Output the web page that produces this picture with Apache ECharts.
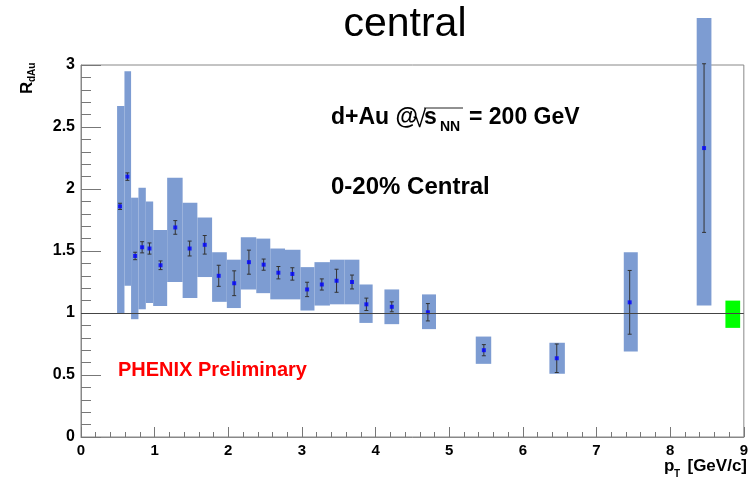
<!DOCTYPE html>
<html>
<head>
<meta charset="utf-8">
<script src="https://cdn.jsdelivr.net/npm/echarts@6/dist/echarts.min.js"></script>
<style>
html, body { margin: 0; padding: 0; background: #fff; }
#main { width: 751px; height: 479px; }
</style>
</head>
<body>
<div id="main"></div>
<script>
// pT bin centres [GeV/c] and measured RdAu
const ptX = [0.53, 0.63, 0.735, 0.83, 0.93, 1.08, 1.28, 1.475, 1.68, 1.87, 2.08, 2.28, 2.48,
    2.68, 2.87, 3.07, 3.27, 3.47, 3.68, 3.875, 4.22, 4.71, 5.47, 6.46, 7.45, 8.46]
const rdau = [1.86, 2.10, 1.46, 1.53, 1.52, 1.385, 1.69, 1.52, 1.55, 1.30, 1.24, 1.41, 1.39,
    1.325, 1.315, 1.19, 1.23, 1.26, 1.25, 1.07, 1.05, 1.006, 0.70, 0.635, 1.086, 2.33]
const statErr = [0.025, 0.03, 0.03, 0.045, 0.045, 0.035, 0.055, 0.06, 0.075, 0.085, 0.10, 0.097, 0.045,
    0.05, 0.05, 0.058, 0.045, 0.093, 0.056, 0.05, 0.04, 0.07, 0.045, 0.115, 0.257, 0.68]

// systematic error boxes
const sysLeft = [0.49, 0.59, 0.68, 0.78, 0.88, 0.98, 1.17, 1.38, 1.58, 1.78, 1.98, 2.17, 2.38,
    2.57, 2.77, 2.98, 3.17, 3.38, 3.58, 3.78, 4.12, 4.63, 5.36, 6.36, 7.37, 8.36]
const sysRight = [0.59, 0.68, 0.78, 0.88, 0.98, 1.17, 1.38, 1.58, 1.78, 1.98, 2.17, 2.38, 2.57,
    2.77, 2.98, 3.17, 3.38, 3.58, 3.78, 3.96, 4.32, 4.82, 5.57, 6.57, 7.56, 8.56]
const sysLow = [1.00, 1.22, 0.95, 1.03, 1.08, 1.056, 1.25, 1.12, 1.29, 1.09, 1.04, 1.19, 1.16,
    1.11, 1.11, 1.02, 1.06, 1.07, 1.07, 0.92, 0.91, 0.87, 0.59, 0.51, 0.69, 1.06]
const sysHigh = [2.67, 2.95, 1.93, 2.01, 1.90, 1.67, 2.09, 1.89, 1.77, 1.49, 1.43, 1.61, 1.60,
    1.52, 1.51, 1.37, 1.41, 1.43, 1.43, 1.23, 1.19, 1.15, 0.81, 0.76, 1.49, 3.38]

// normalisation uncertainty box
const normX = [8.75, 8.95]
const normY = [0.88, 1.10]

const yTicks = { min: 0, max: 3, interval: 0.5 }
const xTicks = { min: 0, max: 9, interval: 1 }

const FONT = '"Liberation Sans", Arial, sans-serif'

const boxData = ptX.map((x, i) => [sysLeft[i], sysRight[i], sysLow[i], sysHigh[i]])
const errData = ptX.map((x, i) => [x, rdau[i], statErr[i]])
const ptData = ptX.map((x, i) => [x, rdau[i]])

function renderBox(params, api) {
    const a = api.coord([api.value(0), api.value(3)])
    const b = api.coord([api.value(1), api.value(2)])
    return {
        type: 'rect',
        shape: { x: a[0], y: a[1], width: b[0] - a[0], height: b[1] - a[1] },
        style: { fill: api.visual('color') }
    }
}

function renderErr(params, api) {
    const x = api.value(0), y = api.value(1), e = api.value(2)
    const top = api.coord([x, y + e])
    const bot = api.coord([x, y - e])
    const style = { stroke: '#333', lineWidth: 1 }
    return {
        type: 'group',
        children: [
            { type: 'line', shape: { x1: top[0], y1: top[1], x2: bot[0], y2: bot[1] }, style },
            { type: 'line', shape: { x1: top[0] - 2, y1: top[1], x2: top[0] + 2, y2: top[1] }, style },
            { type: 'line', shape: { x1: bot[0] - 2, y1: bot[1], x2: bot[0] + 2, y2: bot[1] }, style }
        ]
    }
}

const chart = echarts.init(document.getElementById('main'))
chart.setOption({
    animation: false,
    backgroundColor: '#fff',
    grid: {
        left: 81,
        right: 5,
        top: 65,
        bottom: 42,
        show: true,
        borderColor: '#888',
        borderWidth: 1
    },
    xAxis: {
        type: 'value',
        min: xTicks.min,
        max: xTicks.max,
        interval: xTicks.interval,
        axisLine: { lineStyle: { color: '#888' } },
        axisTick: { inside: true, length: 10, lineStyle: { color: '#777' } },
        minorTick: { show: true, splitNumber: 5, length: 5, lineStyle: { color: '#777' } },
        splitLine: { show: false },
        axisLabel: { color: '#000', fontWeight: 'bold', fontSize: 15, fontFamily: FONT, margin: 6 }
    },
    yAxis: {
        type: 'value',
        min: yTicks.min,
        max: yTicks.max,
        interval: yTicks.interval,
        axisLine: { show: true, lineStyle: { color: '#888' } },
        axisTick: { show: true, inside: true, length: 20, lineStyle: { color: '#777' } },
        minorTick: { show: true, splitNumber: 5, length: 10, lineStyle: { color: '#777' } },
        splitLine: { show: false },
        axisLabel: { color: '#000', fontWeight: 'bold', fontSize: 16, fontFamily: FONT, margin: 6 }
    },
    series: [
        {
            type: 'custom',
            name: 'syst',
            renderItem: renderBox,
            clip: false,
            encode: { x: [0, 1], y: [2, 3] },
            itemStyle: { color: '#7d9cd2' },
            data: boxData,
            z: 1
        },
        {
            type: 'custom',
            name: 'norm',
            renderItem: renderBox,
            encode: { x: [0, 1], y: [2, 3] },
            itemStyle: { color: '#00ff00' },
            data: [[normX[0], normX[1], normY[0], normY[1]]],
            z: 1
        },
        {
            type: 'custom',
            name: 'stat',
            renderItem: renderErr,
            encode: { x: 0, y: 1 },
            data: errData,
            z: 3,
            markLine: {
                silent: true,
                symbol: 'none',
                label: { show: false },
                lineStyle: { color: '#444', width: 1.2, type: 'solid' },
                data: [{ yAxis: 1 }]
            }
        },
        {
            type: 'scatter',
            name: 'RdAu',
            symbol: 'rect',
            symbolSize: 4,
            itemStyle: { color: '#0000ff' },
            data: ptData,
            z: 4
        }
    ],
    graphic: [
        { type: 'text', x: 405, y: 25, style: { text: 'central', font: '41px ' + FONT, fill: '#000', align: 'center', verticalAlign: 'middle', textAlign: 'center', textVerticalAlign: 'middle' } },
        { type: 'text', x: 331, y: 118, style: { text: 'd+Au @', font: 'bold 23px ' + FONT, fill: '#000', verticalAlign: 'middle', textVerticalAlign: 'middle' } },
        { type: 'text', x: 413, y: 120, style: { text: '\u221a', font: '24px ' + FONT, fill: '#000', verticalAlign: 'middle', textVerticalAlign: 'middle' } },
        { type: 'line', shape: { x1: 424, y1: 108, x2: 463, y2: 108 }, style: { stroke: '#222', lineWidth: 1 } },
        { type: 'text', x: 424, y: 118, style: { text: 's', font: 'bold 23px ' + FONT, fill: '#000', verticalAlign: 'middle', textVerticalAlign: 'middle' } },
        { type: 'text', x: 440, y: 127, style: { text: 'NN', font: 'bold 14px ' + FONT, fill: '#000', verticalAlign: 'middle', textVerticalAlign: 'middle' } },
        { type: 'text', x: 469, y: 118, style: { text: '= 200 GeV', font: 'bold 23px ' + FONT, fill: '#000', verticalAlign: 'middle', textVerticalAlign: 'middle' } },
        { type: 'text', x: 331, y: 187, style: { text: '0-20% Central', font: 'bold 24px ' + FONT, fill: '#000', verticalAlign: 'middle', textVerticalAlign: 'middle' } },
        { type: 'text', x: 118, y: 370, style: { text: 'PHENIX Preliminary', font: 'bold 20px ' + FONT, fill: '#ff0000', verticalAlign: 'middle', textVerticalAlign: 'middle' } },
        { type: 'text', x: 27, y: 94, rotation: Math.PI / 2, style: { text: 'R', font: 'bold 17px ' + FONT, fill: '#000', verticalAlign: 'middle', textVerticalAlign: 'middle' } },
        { type: 'text', x: 32, y: 82, rotation: Math.PI / 2, style: { text: 'dAu', font: 'bold 10px ' + FONT, fill: '#000', verticalAlign: 'middle', textVerticalAlign: 'middle' } },
        { type: 'text', x: 664, y: 466, style: { text: 'p', font: 'bold 17px ' + FONT, fill: '#000', verticalAlign: 'middle', textVerticalAlign: 'middle' } },
        { type: 'text', x: 674, y: 474, style: { text: 'T', font: 'bold 10px ' + FONT, fill: '#000', verticalAlign: 'middle', textVerticalAlign: 'middle' } },
        { type: 'text', x: 747, y: 466, style: { text: '[GeV/c]', font: 'bold 17px ' + FONT, fill: '#000', align: 'right', verticalAlign: 'middle', textAlign: 'right', textVerticalAlign: 'middle' } }
    ]
})
</script>
</body>
</html>
